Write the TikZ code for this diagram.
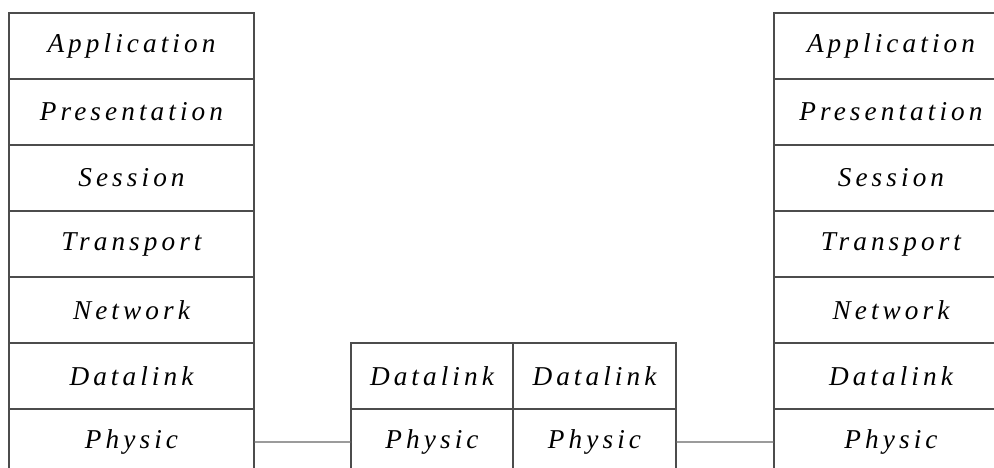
\documentclass[tikz,border=0pt]{standalone}
\usepackage{fontspec}
\setmainfont{Liberation Serif}
\newfontfamily\layerfont{Liberation Serif}[LetterSpace=15]
\usepackage{tikz}
\usetikzlibrary{positioning}

\tikzset{
  layer/.style={draw=black!70,line width=0.8pt,minimum width=4.9cm,minimum height=1.32cm,
    inner sep=0pt,outer sep=0pt,text=black,font=\layerfont\itshape\fontsize{15.5}{18}\selectfont},
  link/.style={draw=black!60,line width=0.8pt}
}

\begin{document}
\begin{tikzpicture}
    \useasboundingbox (0,0) rectangle (19.88,-9.36);
    \clip (0,0) rectangle (19.88,-9.36);
    % end host, left
    \foreach \name [count=\i] in {Application,Presentation,Session,Transport,Network,Datalink,Physic} {
      \node[layer] (l\i) at (2.63,-0.92-1.32*\i+1.32) {\name};
    }
    % end host, right
    \foreach \name [count=\i] in {Application,Presentation,Session,Transport,Network,Datalink,Physic} {
      \node[layer,minimum width=4.68cm] (r\i) at (17.82,-0.92-1.32*\i+1.32) {\name};
    }
    % relay in the middle
    \node[layer,minimum width=3.24cm] (ma) at (8.64,-7.52) {Datalink};
    \node[layer,minimum width=3.26cm,right=0pt of ma] (mb) {Datalink};
    \node[layer,minimum width=3.24cm,below=0pt of ma] (mc) {Physic};
    \node[layer,minimum width=3.26cm,below=0pt of mb] (md) {Physic};
    \draw[link] (l7.east) -- (mc.west);
    \draw[link] (md.east) -- (r7.west);
  \end{tikzpicture}
\end{document}
